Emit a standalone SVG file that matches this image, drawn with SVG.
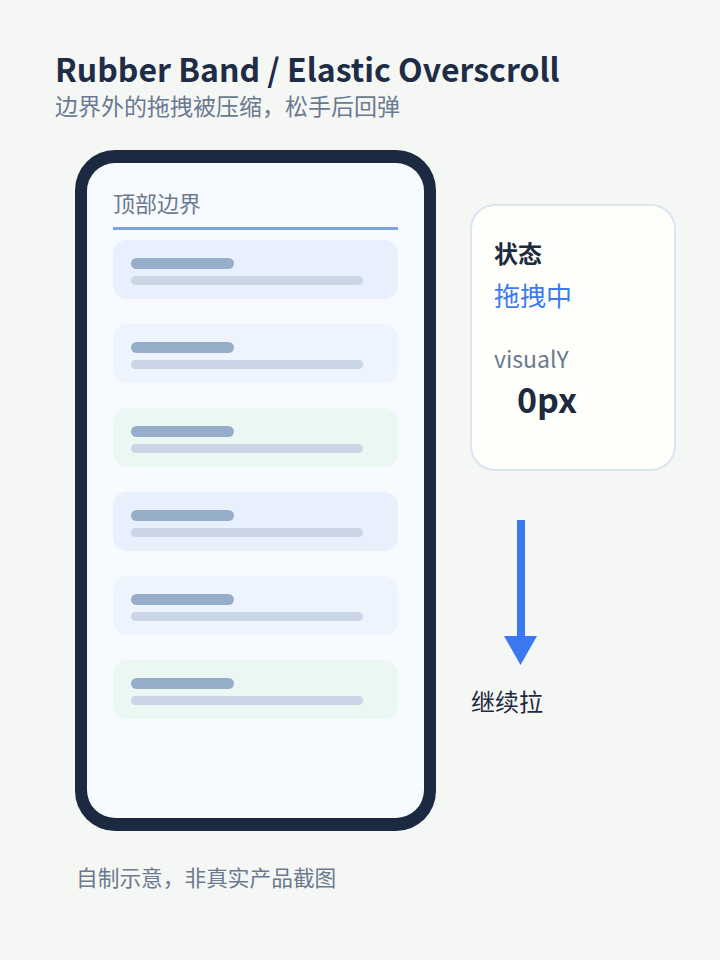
<svg xmlns="http://www.w3.org/2000/svg" width="720" height="960" viewBox="0 0 720 960">
<style>
text{font-family:"Noto Sans CJK SC","Noto Sans",sans-serif}
.title{font-size:32px;font-weight:700;fill:#1e2d45}
.sub{font-size:23px;fill:#6b7a90}
.gray{fill:#6b7a8f}
.dark{fill:#1e2a3d}
.b1{fill:#97aecb}
.b2{fill:#cad5e6}
</style>
<rect width="720" height="960" fill="#f5f7f5"/>
<text class="title" x="55" y="82">Rubber Band / Elastic Overscroll</text>
<text class="sub" x="55" y="115">边界外的拖拽被压缩，松手后回弹</text>
<g id="phone">
<rect x="75" y="150" width="361" height="681" rx="40" fill="#1b2a40"/>
<rect x="87" y="163" width="337" height="655" rx="28" fill="#f7faff"/>
<text x="113" y="212" font-size="22" class="gray">顶部边界</text>
<rect x="113" y="227" width="285" height="3" fill="#7ea3e0"/>
</g>
<g id="item1"><rect x="113" y="240" width="285" height="59" rx="14" fill="#e8effd"/><rect class="b1" x="131" y="258" width="103" height="11" rx="5.5"/><rect class="b2" x="131" y="276" width="232" height="9" rx="4.5"/></g>
<g id="item2"><rect x="113" y="324" width="285" height="59" rx="14" fill="#eef4fd"/><rect class="b1" x="131" y="342" width="103" height="11" rx="5.5"/><rect class="b2" x="131" y="360" width="232" height="9" rx="4.5"/></g>
<g id="item3"><rect x="113" y="408" width="285" height="59" rx="14" fill="#eaf7f3"/><rect class="b1" x="131" y="426" width="103" height="11" rx="5.5"/><rect class="b2" x="131" y="444" width="232" height="9" rx="4.5"/></g>
<g id="item4"><rect x="113" y="492" width="285" height="59" rx="14" fill="#e8effd"/><rect class="b1" x="131" y="510" width="103" height="11" rx="5.5"/><rect class="b2" x="131" y="528" width="232" height="9" rx="4.5"/></g>
<g id="item5"><rect x="113" y="576" width="285" height="59" rx="14" fill="#eef4fd"/><rect class="b1" x="131" y="594" width="103" height="11" rx="5.5"/><rect class="b2" x="131" y="612" width="232" height="9" rx="4.5"/></g>
<g id="item6"><rect x="113" y="660" width="285" height="59" rx="14" fill="#eaf7f3"/><rect class="b1" x="131" y="678" width="103" height="11" rx="5.5"/><rect class="b2" x="131" y="696" width="232" height="9" rx="4.5"/></g>
<g id="status">
<rect x="471" y="205" width="204" height="265" rx="24" fill="#fefffb" stroke="#dbe4f0" stroke-width="2"/>
<text x="494" y="263" font-size="24" font-weight="700" class="dark">状态</text>
<text x="494" y="306" font-size="26" fill="#3b7af0">拖拽中</text>
<text x="494" y="368" font-size="23" class="gray">visualY</text>
<text x="517" y="413" font-size="34" font-weight="700" class="dark">0px</text>
</g>
<g id="connectors">
<rect x="517" y="520" width="8" height="118" fill="#3b78f2"/>
<polygon points="504,636 537,636 520.5,665" fill="#3b78f2"/>
</g>
<text x="471" y="711" font-size="24" class="dark">继续拉</text>
<text x="76" y="886" font-size="21.7" class="gray">自制示意，非真实产品截图</text>
</svg>
